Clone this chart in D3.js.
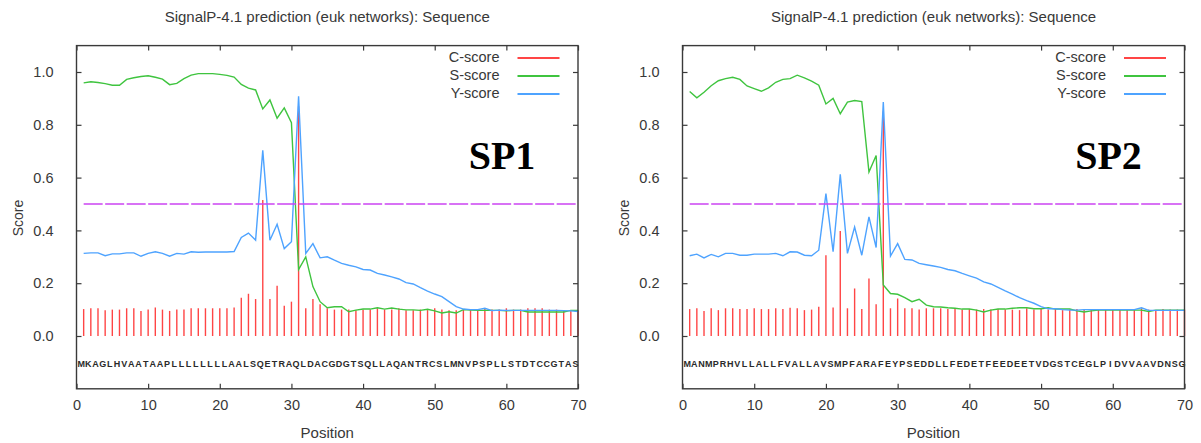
<!DOCTYPE html>
<html>
<head>
<meta charset="utf-8">
<script src="https://cdn.jsdelivr.net/npm/d3@7"></script>
<style>
  body { margin: 0; background: #fff; }
  text { font-family: "Liberation Sans", Arial, Helvetica, sans-serif; }
  text.tag { font-family: "Liberation Serif", "Times New Roman", serif; }
</style>
</head>
<body>
<div id="board"></div>
<script>
// ---- data ----
const positions = d3.range(1, 71);
const xTicks = [0, 10, 20, 30, 40, 50, 60, 70];
const yTicks = [0.0, 0.2, 0.4, 0.6, 0.8, 1.0];
const seriesNames = ["C-score", "S-score", "Y-score"];
const cutoff = 0.5;
const titleText = "SignalP-4.1 prediction (euk networks): Sequence";
const panelLabels = ["SP1", "SP2"];

const seq1 = "MKAGLHVAATAAPLLLLLLLLAALSQETRAQLDACGDGTSQLLAQANTRCSLMNVPSPLLSTDTCCGTAS";
const cScore1 = [0.102,0.105,0.105,0.098,0.100,0.100,0.105,0.105,0.095,0.100,
  0.108,0.100,0.095,0.100,0.100,0.105,0.105,0.105,0.105,0.105,
  0.105,0.108,0.145,0.160,0.140,0.515,0.140,0.190,0.115,0.130,
  0.870,0.105,0.140,0.120,0.105,0.100,0.100,0.100,0.098,0.100,
  0.100,0.105,0.100,0.100,0.105,0.098,0.098,0.100,0.098,0.105,
  0.100,0.098,0.098,0.100,0.100,0.100,0.105,0.100,0.100,0.105,
  0.100,0.100,0.105,0.105,0.105,0.100,0.100,0.098,0.098,0.098];
const sScore1 = [0.959,0.963,0.960,0.956,0.950,0.950,0.972,0.978,0.983,0.986,
  0.980,0.973,0.952,0.957,0.975,0.988,0.994,0.994,0.994,0.991,
  0.987,0.981,0.953,0.939,0.932,0.860,0.894,0.825,0.864,0.808,
  0.252,0.300,0.187,0.130,0.107,0.111,0.111,0.092,0.098,0.102,
  0.102,0.107,0.102,0.106,0.102,0.099,0.099,0.097,0.101,0.095,
  0.087,0.092,0.087,0.100,0.098,0.097,0.097,0.097,0.097,0.095,
  0.097,0.097,0.091,0.091,0.091,0.091,0.091,0.091,0.097,0.097];
const yScore1 = [0.313,0.315,0.315,0.304,0.311,0.311,0.315,0.315,0.302,0.313,
  0.319,0.313,0.302,0.313,0.310,0.319,0.317,0.318,0.318,0.318,
  0.318,0.320,0.373,0.390,0.363,0.703,0.363,0.423,0.331,0.357,
  0.908,0.313,0.350,0.296,0.300,0.287,0.275,0.268,0.262,0.252,
  0.250,0.237,0.231,0.224,0.216,0.202,0.197,0.183,0.170,0.159,
  0.149,0.130,0.111,0.102,0.100,0.100,0.105,0.096,0.098,0.097,
  0.097,0.097,0.097,0.097,0.097,0.097,0.097,0.096,0.095,0.093];

const seq2 = "MANMPRHVLLALLFVALLAVSMPFARAFEYPSEDDLLFEDETFEEDEETVDGSTCEGLPIDVVAAVDNSG";
const cScore2 = [0.102,0.105,0.095,0.105,0.098,0.105,0.105,0.102,0.102,0.105,
  0.102,0.102,0.105,0.102,0.107,0.105,0.098,0.100,0.111,0.306,
  0.108,0.398,0.105,0.180,0.102,0.218,0.120,0.850,0.105,0.142,
  0.105,0.105,0.100,0.105,0.105,0.105,0.102,0.102,0.100,0.102,
  0.100,0.102,0.100,0.102,0.100,0.100,0.098,0.105,0.100,0.102,
  0.100,0.102,0.098,0.100,0.102,0.100,0.100,0.102,0.100,0.102,
  0.100,0.098,0.100,0.105,0.100,0.098,0.102,0.100,0.100,0.100];
const sScore2 = [0.926,0.902,0.923,0.948,0.967,0.975,0.980,0.972,0.947,0.937,
  0.927,0.940,0.961,0.972,0.975,0.988,0.978,0.965,0.950,0.879,
  0.900,0.842,0.886,0.892,0.888,0.621,0.684,0.193,0.161,0.158,
  0.145,0.130,0.139,0.117,0.111,0.110,0.107,0.105,0.102,0.102,
  0.098,0.091,0.098,0.102,0.102,0.105,0.107,0.107,0.103,0.103,
  0.107,0.102,0.102,0.102,0.095,0.091,0.095,0.098,0.098,0.098,
  0.098,0.098,0.098,0.098,0.093,0.098,0.098,0.098,0.098,0.098];
const yScore2 = [0.304,0.310,0.296,0.309,0.300,0.313,0.313,0.306,0.306,0.310,
  0.310,0.310,0.313,0.304,0.319,0.318,0.306,0.304,0.325,0.539,
  0.319,0.612,0.313,0.413,0.306,0.451,0.335,0.886,0.303,0.350,
  0.290,0.288,0.275,0.270,0.265,0.260,0.252,0.247,0.237,0.228,
  0.219,0.205,0.197,0.184,0.171,0.159,0.145,0.134,0.124,0.111,
  0.103,0.103,0.100,0.098,0.098,0.100,0.100,0.100,0.100,0.100,
  0.100,0.100,0.100,0.107,0.097,0.097,0.097,0.097,0.097,0.097];

// ---- layout ----
const width = 1201, height = 443;
const frameTop = 45.6, frameBottom = 388.8;
const colors = { c: "#ff4545", s: "#3fc43f", y: "#4ea3ff", cut: "#cc44f2", axis: "#3a3a3a", text: "#383838" };

const panels = [
  { x0: 76.5, x1: 578, seq: seq1, c: cScore1, s: sScore1, y: yScore1, label: panelLabels[0] },
  { x0: 682.5, x1: 1184.5, seq: seq2, c: cScore2, s: sScore2, y: yScore2, label: panelLabels[1] }
];

const svg = d3.select("#board").append("svg")
  .attr("width", width)
  .attr("height", height);

svg.append("rect").attr("width", width).attr("height", height).attr("fill", "#fff");

const y = d3.scaleLinear().domain([-0.2, 1.1]).range([frameBottom, frameTop]);

panels.forEach(p => {
  const x = d3.scaleLinear().domain([0, 70]).range([p.x0, p.x1]);
  const g = svg.append("g");
  const mid = (p.x0 + p.x1) / 2;

  // title
  g.append("text")
    .attr("x", mid).attr("y", 22)
    .attr("text-anchor", "middle")
    .attr("font-size", 15)
    .attr("fill", colors.text)
    .text(titleText);

  // C-score impulses
  g.append("g").selectAll("line")
    .data(positions)
    .join("line")
    .attr("x1", d => x(d)).attr("x2", d => x(d))
    .attr("y1", y(0)).attr("y2", d => y(p.c[d - 1]))
    .attr("stroke", colors.c)
    .attr("stroke-width", 1.4);

  const line = arr => d3.line()
    .x(d => x(d))
    .y(d => y(arr[d - 1]))(positions);

  g.append("path").attr("d", line(p.s))
    .attr("fill", "none").attr("stroke", colors.s).attr("stroke-width", 1.4);
  g.append("path").attr("d", line(p.y))
    .attr("fill", "none").attr("stroke", colors.y).attr("stroke-width", 1.4);

  // cutoff
  g.append("line")
    .attr("x1", x(1)).attr("x2", x(70))
    .attr("y1", y(cutoff)).attr("y2", y(cutoff))
    .attr("stroke", colors.cut)
    .attr("stroke-width", 1.4)
    .attr("stroke-dasharray", "19,2.5");

  // sequence letters
  g.append("g").selectAll("text")
    .data(positions)
    .join("text")
    .attr("x", d => x(d - 0.35))
    .attr("y", 366.5)
    .attr("text-anchor", "middle")
    .attr("font-size", 9)
    .attr("font-weight", "bold")
    .attr("fill", "#2a2a2a")
    .text(d => p.seq[d - 1]);

  // axes: bottom, top, left, right (ticks inward, gnuplot style)
  const axB = g.append("g")
    .attr("transform", `translate(0,${frameBottom})`)
    .call(d3.axisBottom(x).tickValues(xTicks).tickSize(-5).tickPadding(11).tickFormat(d3.format("d")));
  const axT = g.append("g")
    .attr("transform", `translate(0,${frameTop})`)
    .call(d3.axisTop(x).tickValues(xTicks).tickSize(-5).tickFormat(""));
  const axL = g.append("g")
    .attr("transform", `translate(${p.x0},0)`)
    .call(d3.axisLeft(y).tickValues(yTicks).tickSize(-5).tickPadding(23).tickFormat(d3.format(".1f")));
  const axR = g.append("g")
    .attr("transform", `translate(${p.x1},0)`)
    .call(d3.axisRight(y).tickValues(yTicks).tickSize(-5).tickFormat(""));

  [axB, axT, axL, axR].forEach(a => {
    a.select(".domain").remove();
    a.selectAll("line").attr("stroke", colors.axis).attr("stroke-width", 1.2);
    a.selectAll("text").attr("font-size", 14.5).attr("fill", colors.text);
  });

  // frame
  g.append("rect")
    .attr("x", p.x0).attr("y", frameTop)
    .attr("width", p.x1 - p.x0).attr("height", frameBottom - frameTop)
    .attr("fill", "none").attr("stroke", colors.axis).attr("stroke-width", 1.4);

  // axis titles
  g.append("text")
    .attr("x", mid).attr("y", 438)
    .attr("text-anchor", "middle")
    .attr("font-size", 15).attr("fill", colors.text)
    .text("Position");
  g.append("text")
    .attr("transform", `translate(${p.x0 - 59},218) rotate(-90)`)
    .attr("text-anchor", "middle")
    .attr("dominant-baseline", "central")
    .attr("font-size", 14).attr("fill", colors.text)
    .text("Score");

  // legend
  const legColors = [colors.c, colors.s, colors.y];
  const leg = g.append("g").selectAll("g")
    .data(seriesNames)
    .join("g")
    .attr("transform", (d, i) => `translate(0,${57 + i * 18})`);
  leg.append("text")
    .attr("x", p.x1 - 78.5).attr("y", 0)
    .attr("text-anchor", "end")
    .attr("dominant-baseline", "central")
    .attr("font-size", 14.5).attr("fill", colors.text)
    .text(d => d);
  leg.append("line")
    .attr("x1", p.x1 - 60.5).attr("x2", p.x1 - 18.5)
    .attr("y1", 1).attr("y2", 1)
    .attr("stroke", (d, i) => legColors[i])
    .attr("stroke-width", 2);

  // panel tag
  g.append("text")
    .attr("class", "tag")
    .attr("x", p.x1 - 76).attr("y", 169)
    .attr("text-anchor", "middle")
    .attr("font-weight", "bold")
    .attr("font-size", 40)
    .attr("fill", "#000")
    .text(p.label);
});
</script>
</body>
</html>
